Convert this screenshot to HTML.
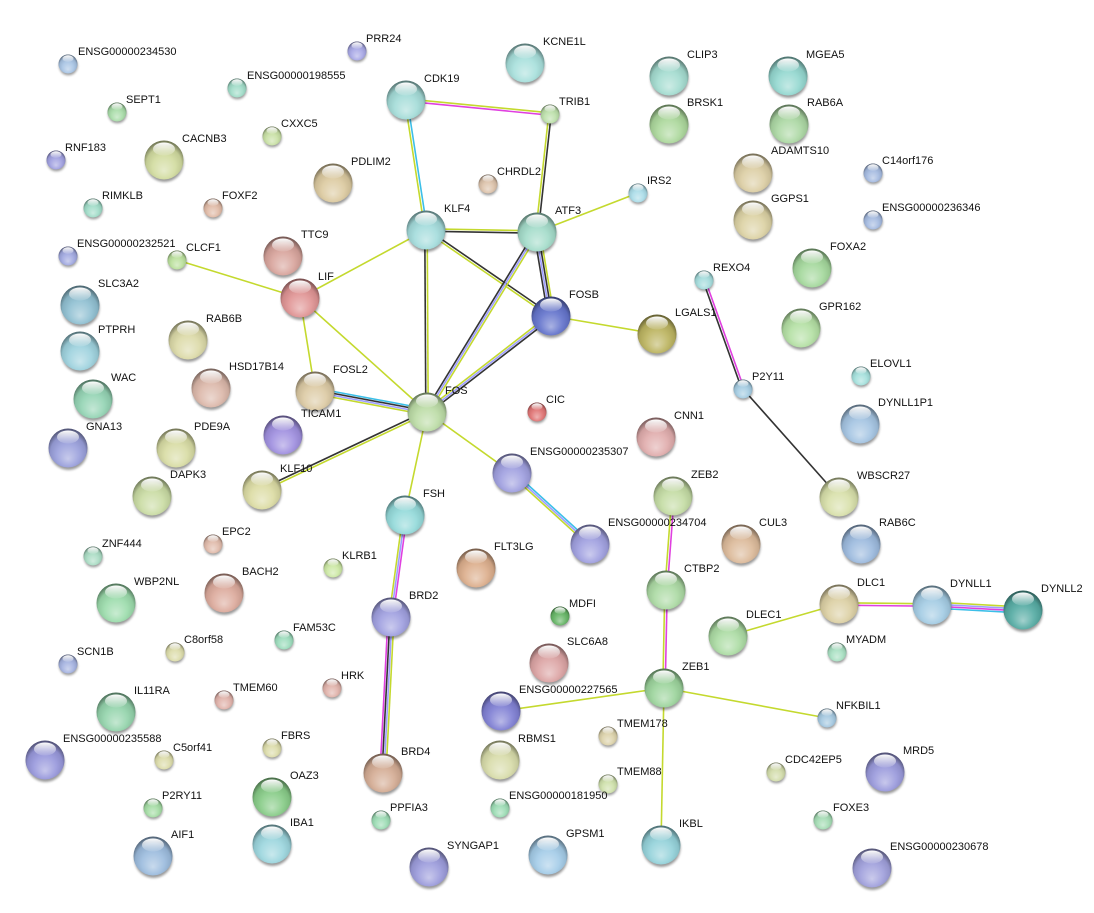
<!DOCTYPE html>
<html><head><meta charset="utf-8"><style>
html,body{margin:0;padding:0;background:#fff;}
svg{display:block;}
text{font-family:"Liberation Sans",Arial,sans-serif;font-size:11px;fill:#111;}
.y{stroke:#c4d92e;stroke-width:1.6;fill:none}
.k{stroke:#333;stroke-width:1.6;fill:none}
.v{stroke:#9e9eff;stroke-width:1.6;fill:none}
.m{stroke:#e040e0;stroke-width:1.6;fill:none}
.c{stroke:#3cbfe8;stroke-width:1.6;fill:none}
</style></head><body>
<svg width="1094" height="913" viewBox="0 0 1094 913" xmlns="http://www.w3.org/2000/svg" xmlns:xlink="http://www.w3.org/1999/xlink">
<defs>
<radialGradient id="sh" cx="50%" cy="58%" r="58%" fx="50%" fy="78%">
<stop offset="0" stop-color="#fff" stop-opacity=".45"/>
<stop offset=".5" stop-color="#fff" stop-opacity=".08"/>
<stop offset=".78" stop-color="#000" stop-opacity=".08"/>
<stop offset="1" stop-color="#000" stop-opacity=".5"/>
</radialGradient>
<linearGradient id="hl" x1="0" y1="0" x2="0" y2="1">
<stop offset="0" stop-color="#fff" stop-opacity="1"/>
<stop offset="1" stop-color="#fff" stop-opacity=".1"/>
</linearGradient>
<filter id="bl" x="-50%" y="-50%" width="200%" height="200%"><feGaussianBlur stdDeviation="1.3"/></filter>
<g id="L">
<circle cx="0.5" cy="3" r="19" fill="#000" opacity=".4" filter="url(#bl)"/>
<circle r="19.5" fill="currentColor"/>
<circle r="19.5" fill="url(#sh)"/>
<ellipse cy="-11" rx="11" ry="6.5" fill="url(#hl)"/>
</g>
<g id="S">
<circle cx="0.4" cy="2" r="9.3" fill="#000" opacity=".4" filter="url(#bl)"/>
<circle r="9.5" fill="currentColor"/>
<circle r="9.5" fill="url(#sh)"/>
<ellipse cy="-5.4" rx="5.5" ry="3.3" fill="url(#hl)"/>
</g>
</defs>

<!-- edges -->
<line class="y" x1="406.1" y1="98.8" x2="550.1" y2="112.8"/>
<line class="m" x1="405.9" y1="101.2" x2="549.9" y2="115.2"/>
<line class="y" x1="404.8" y1="100.2" x2="424.8" y2="230.2"/>
<line class="c" x1="407.2" y1="99.8" x2="427.2" y2="229.8"/>
<line class="y" x1="548.8" y1="113.9" x2="535.8" y2="231.9"/>
<line class="k" x1="551.2" y1="114.1" x2="538.2" y2="232.1"/>
<line class="y" x1="426" y1="228.8" x2="537" y2="230.8"/>
<line class="k" x1="426" y1="231.2" x2="537" y2="233.2"/>
<line class="k" x1="426.7" y1="229" x2="551.7" y2="315"/>
<line class="y" x1="425.3" y1="231" x2="550.3" y2="317"/>
<line class="k" x1="424.8" y1="230" x2="425.8" y2="412"/>
<line class="y" x1="427.2" y1="230" x2="428.2" y2="412"/>
<line class="k" x1="534" y1="232.5" x2="548" y2="316.5"/>
<line class="v" x1="536" y1="232.2" x2="550" y2="316.2"/>
<line class="k" x1="538" y1="231.8" x2="552" y2="315.8"/>
<line class="y" x1="540" y1="231.5" x2="554" y2="315.5"/>
<line class="k" x1="535.3" y1="231" x2="425.3" y2="411"/>
<line class="v" x1="537" y1="232" x2="427" y2="412"/>
<line class="y" x1="538.7" y1="233" x2="428.7" y2="413"/>
<line class="y" x1="537" y1="232" x2="638" y2="193"/>
<line class="y" x1="549.8" y1="314.4" x2="425.8" y2="410.4"/>
<line class="v" x1="551" y1="316" x2="427" y2="412"/>
<line class="k" x1="552.2" y1="317.6" x2="428.2" y2="413.6"/>
<line class="y" x1="551" y1="316" x2="657" y2="334"/>
<line class="y" x1="300" y1="298" x2="177" y2="260"/>
<line class="y" x1="300" y1="298" x2="426" y2="230"/>
<line class="y" x1="300" y1="298" x2="315" y2="391"/>
<line class="y" x1="300" y1="298" x2="427" y2="412"/>
<line class="c" x1="315.6" y1="388.1" x2="427.6" y2="409.1"/>
<line class="k" x1="315.2" y1="390" x2="427.2" y2="411"/>
<line class="v" x1="314.8" y1="392" x2="426.8" y2="413"/>
<line class="y" x1="314.4" y1="393.9" x2="426.4" y2="414.9"/>
<line class="k" x1="261.5" y1="488.9" x2="426.5" y2="410.9"/>
<line class="y" x1="262.5" y1="491.1" x2="427.5" y2="413.1"/>
<line class="y" x1="427" y1="412" x2="405" y2="515"/>
<line class="y" x1="427" y1="412" x2="512" y2="473"/>
<line class="c" x1="513.3" y1="471.5" x2="591.3" y2="542.5"/>
<line class="v" x1="512" y1="473" x2="590" y2="544"/>
<line class="y" x1="510.7" y1="474.5" x2="588.7" y2="545.5"/>
<line class="y" x1="403" y1="514.7" x2="389" y2="616.7"/>
<line class="v" x1="405" y1="515" x2="391" y2="617"/>
<line class="m" x1="407" y1="515.3" x2="393" y2="617.3"/>
<line class="m" x1="388" y1="616.8" x2="380" y2="772.8"/>
<line class="k" x1="390" y1="617" x2="382" y2="773"/>
<line class="v" x1="392" y1="617" x2="384" y2="773"/>
<line class="y" x1="394" y1="617.2" x2="386" y2="773.2"/>
<line class="k" x1="702.9" y1="280.4" x2="741.9" y2="389.4"/>
<line class="m" x1="705.1" y1="279.6" x2="744.1" y2="388.6"/>
<line class="k" x1="743" y1="389" x2="839" y2="497"/>
<line class="y" x1="671.8" y1="496" x2="664.8" y2="590"/>
<line class="m" x1="674.2" y1="496" x2="667.2" y2="590"/>
<line class="y" x1="664.8" y1="590" x2="662.8" y2="688"/>
<line class="m" x1="667.2" y1="590" x2="665.2" y2="688"/>
<line class="y" x1="664" y1="688" x2="501" y2="711"/>
<line class="y" x1="664" y1="688" x2="827" y2="718"/>
<line class="y" x1="664" y1="688" x2="661" y2="845"/>
<line class="y" x1="728" y1="636" x2="839" y2="604"/>
<line class="y" x1="839" y1="602.8" x2="932" y2="603.8"/>
<line class="m" x1="839" y1="605.2" x2="932" y2="606.2"/>
<line class="y" x1="932" y1="602" x2="1023" y2="607"/>
<line class="v" x1="932" y1="604" x2="1023" y2="609"/>
<line class="m" x1="932" y1="606" x2="1023" y2="611"/>
<line class="c" x1="932" y1="608" x2="1023" y2="613"/>

<!-- large nodes -->
<use href="#L" x="164" y="160" color="#d2dca0"/>
<use href="#L" x="333" y="183" color="#dccaa0"/>
<use href="#L" x="283" y="256" color="#d8a49c"/>
<use href="#L" x="300" y="298" color="#e09494"/>
<use href="#L" x="80" y="305" color="#90c0d2"/>
<use href="#L" x="80" y="351" color="#9ed2de"/>
<use href="#L" x="93" y="399" color="#94d4b4"/>
<use href="#L" x="68" y="448" color="#9aa0dc"/>
<use href="#L" x="188" y="340" color="#dcdaa8"/>
<use href="#L" x="211" y="388" color="#dcb8aa"/>
<use href="#L" x="176" y="448" color="#d8dca4"/>
<use href="#L" x="152" y="496" color="#cadca4"/>
<use href="#L" x="262" y="490" color="#dcdca4"/>
<use href="#L" x="283" y="435" color="#a090e0"/>
<use href="#L" x="315" y="391" color="#dccaa4"/>
<use href="#L" x="427" y="412" color="#bcdca6"/>
<use href="#L" x="551" y="316" color="#6474cc"/>
<use href="#L" x="512" y="473" color="#a0a0e0"/>
<use href="#L" x="590" y="544" color="#a0a0e0"/>
<use href="#L" x="405" y="515" color="#94dada"/>
<use href="#L" x="476" y="568" color="#dcae8c"/>
<use href="#L" x="391" y="617" color="#a0a0e0"/>
<use href="#L" x="383" y="773" color="#d4ac94"/>
<use href="#L" x="673" y="496" color="#c4dca4"/>
<use href="#L" x="741" y="544" color="#dcba9a"/>
<use href="#L" x="839" y="497" color="#d8e0aa"/>
<use href="#L" x="861" y="544" color="#9cbade"/>
<use href="#L" x="656" y="437" color="#e0acac"/>
<use href="#L" x="657" y="334" color="#bcb460"/>
<use href="#L" x="812" y="268" color="#a4d89c"/>
<use href="#L" x="801" y="328" color="#b4e0a4"/>
<use href="#L" x="860" y="424" color="#a4c4e2"/>
<use href="#L" x="666" y="590" color="#acdaa4"/>
<use href="#L" x="728" y="636" color="#acdca4"/>
<use href="#L" x="839" y="604" color="#dcd0a4"/>
<use href="#L" x="664" y="688" color="#9cd49c"/>
<use href="#L" x="549" y="663" color="#dca4a4"/>
<use href="#L" x="501" y="711" color="#8080d4"/>
<use href="#L" x="500" y="760" color="#d8dcaa"/>
<use href="#L" x="548" y="855" color="#a4cce8"/>
<use href="#L" x="661" y="845" color="#94d2da"/>
<use href="#L" x="885" y="772" color="#9a9adc"/>
<use href="#L" x="872" y="868" color="#a0a0dc"/>
<use href="#L" x="932" y="605" color="#a4cce4"/>
<use href="#L" x="1023" y="610" color="#56aca4"/>
<use href="#L" x="429" y="867" color="#9c9cdc"/>
<use href="#L" x="272" y="797" color="#88cc88"/>
<use href="#L" x="272" y="844" color="#9cd6de"/>
<use href="#L" x="153" y="856" color="#9cbcde"/>
<use href="#L" x="45" y="760" color="#9898dc"/>
<use href="#L" x="116" y="712" color="#94d4ac"/>
<use href="#L" x="116" y="603" color="#9cdcac"/>
<use href="#L" x="224" y="593" color="#dcaa9c"/>
<use href="#L" x="426" y="230" color="#a4dcdc"/>
<use href="#L" x="537" y="232" color="#a4dcca"/>
<use href="#L" x="406" y="100" color="#a4dcd8"/>
<use href="#L" x="525" y="63" color="#a8e0dc"/>
<use href="#L" x="669" y="76" color="#a4dcd0"/>
<use href="#L" x="669" y="124" color="#acd89c"/>
<use href="#L" x="788" y="76" color="#94d8d0"/>
<use href="#L" x="789" y="124" color="#acd8a4"/>
<use href="#L" x="753" y="173" color="#dccea4"/>
<use href="#L" x="753" y="220" color="#dcd2a4"/>

<!-- small nodes -->
<use href="#S" x="68" y="64" color="#a8c4e4"/>
<use href="#S" x="357" y="51" color="#a8a8e6"/>
<use href="#S" x="237" y="88" color="#a0dcc8"/>
<use href="#S" x="117" y="112" color="#a8dca8"/>
<use href="#S" x="272" y="136" color="#c8e0a4"/>
<use href="#S" x="56" y="160" color="#a0a0e0"/>
<use href="#S" x="93" y="208" color="#a0dcc8"/>
<use href="#S" x="213" y="208" color="#e0baa6"/>
<use href="#S" x="68" y="256" color="#a0a8e0"/>
<use href="#S" x="177" y="260" color="#bae09c"/>
<use href="#S" x="537" y="412" color="#e07474"/>
<use href="#S" x="560" y="616" color="#64b464"/>
<use href="#S" x="333" y="568" color="#cce8a4"/>
<use href="#S" x="743" y="389" color="#a4cce2"/>
<use href="#S" x="704" y="280" color="#a4dcdc"/>
<use href="#S" x="861" y="376" color="#a4e0dc"/>
<use href="#S" x="837" y="652" color="#a8e0c2"/>
<use href="#S" x="827" y="718" color="#a4c8e0"/>
<use href="#S" x="608" y="736" color="#dcd2aa"/>
<use href="#S" x="608" y="784" color="#cee0aa"/>
<use href="#S" x="500" y="808" color="#9cdcb4"/>
<use href="#S" x="776" y="772" color="#d2dcaa"/>
<use href="#S" x="823" y="820" color="#a4dcb4"/>
<use href="#S" x="381" y="820" color="#9cdcb4"/>
<use href="#S" x="332" y="688" color="#e0b2aa"/>
<use href="#S" x="272" y="748" color="#dcdcaa"/>
<use href="#S" x="153" y="808" color="#a4dca4"/>
<use href="#S" x="164" y="760" color="#dcdcaa"/>
<use href="#S" x="224" y="700" color="#e0b2aa"/>
<use href="#S" x="68" y="664" color="#a4b2e0"/>
<use href="#S" x="175" y="652" color="#dcdcaa"/>
<use href="#S" x="284" y="640" color="#9cdcbc"/>
<use href="#S" x="213" y="544" color="#e0baaa"/>
<use href="#S" x="93" y="556" color="#aadcc4"/>
<use href="#S" x="488" y="184" color="#dcc2aa"/>
<use href="#S" x="638" y="193" color="#aadce8"/>
<use href="#S" x="550" y="114" color="#bce0aa"/>
<use href="#S" x="873" y="173" color="#a4bae0"/>
<use href="#S" x="873" y="220" color="#a4bae0"/>

<!-- labels large -->
<text x="182" y="142">CACNB3</text>
<text x="351" y="165">PDLIM2</text>
<text x="301" y="238">TTC9</text>
<text x="318" y="280">LIF</text>
<text x="98" y="287">SLC3A2</text>
<text x="98" y="333">PTPRH</text>
<text x="111" y="381">WAC</text>
<text x="86" y="430">GNA13</text>
<text x="206" y="322">RAB6B</text>
<text x="229" y="370">HSD17B14</text>
<text x="194" y="430">PDE9A</text>
<text x="170" y="478">DAPK3</text>
<text x="280" y="472">KLF10</text>
<text x="301" y="417">TICAM1</text>
<text x="333" y="373">FOSL2</text>
<text x="445" y="394">FOS</text>
<text x="569" y="298">FOSB</text>
<text x="530" y="455">ENSG00000235307</text>
<text x="608" y="526">ENSG00000234704</text>
<text x="423" y="497">FSH</text>
<text x="494" y="550">FLT3LG</text>
<text x="409" y="599">BRD2</text>
<text x="401" y="755">BRD4</text>
<text x="691" y="478">ZEB2</text>
<text x="759" y="526">CUL3</text>
<text x="857" y="479">WBSCR27</text>
<text x="879" y="526">RAB6C</text>
<text x="674" y="419">CNN1</text>
<text x="675" y="316">LGALS1</text>
<text x="830" y="250">FOXA2</text>
<text x="819" y="310">GPR162</text>
<text x="878" y="406">DYNLL1P1</text>
<text x="684" y="572">CTBP2</text>
<text x="746" y="618">DLEC1</text>
<text x="857" y="586">DLC1</text>
<text x="682" y="670">ZEB1</text>
<text x="567" y="645">SLC6A8</text>
<text x="519" y="693">ENSG00000227565</text>
<text x="518" y="742">RBMS1</text>
<text x="566" y="837">GPSM1</text>
<text x="679" y="827">IKBL</text>
<text x="903" y="754">MRD5</text>
<text x="890" y="850">ENSG00000230678</text>
<text x="950" y="587">DYNLL1</text>
<text x="1041" y="592">DYNLL2</text>
<text x="447" y="849">SYNGAP1</text>
<text x="290" y="779">OAZ3</text>
<text x="290" y="826">IBA1</text>
<text x="171" y="838">AIF1</text>
<text x="63" y="742">ENSG00000235588</text>
<text x="134" y="694">IL11RA</text>
<text x="134" y="585">WBP2NL</text>
<text x="242" y="575">BACH2</text>
<text x="444" y="212">KLF4</text>
<text x="555" y="214">ATF3</text>
<text x="424" y="82">CDK19</text>
<text x="543" y="45">KCNE1L</text>
<text x="687" y="58">CLIP3</text>
<text x="687" y="106">BRSK1</text>
<text x="806" y="58">MGEA5</text>
<text x="807" y="106">RAB6A</text>
<text x="771" y="154">ADAMTS10</text>
<text x="771" y="202">GGPS1</text>

<!-- labels small -->
<text x="78" y="55">ENSG00000234530</text>
<text x="366" y="42">PRR24</text>
<text x="247" y="79">ENSG00000198555</text>
<text x="126" y="103">SEPT1</text>
<text x="281" y="127">CXXC5</text>
<text x="65" y="151">RNF183</text>
<text x="102" y="199">RIMKLB</text>
<text x="222" y="199">FOXF2</text>
<text x="77" y="247">ENSG00000232521</text>
<text x="186" y="251">CLCF1</text>
<text x="546" y="403">CIC</text>
<text x="569" y="607">MDFI</text>
<text x="342" y="559">KLRB1</text>
<text x="752" y="380">P2Y11</text>
<text x="713" y="271">REXO4</text>
<text x="870" y="367">ELOVL1</text>
<text x="846" y="643">MYADM</text>
<text x="836" y="709">NFKBIL1</text>
<text x="617" y="727">TMEM178</text>
<text x="617" y="775">TMEM88</text>
<text x="509" y="799">ENSG00000181950</text>
<text x="785" y="763">CDC42EP5</text>
<text x="833" y="811">FOXE3</text>
<text x="390" y="811">PPFIA3</text>
<text x="341" y="679">HRK</text>
<text x="281" y="739">FBRS</text>
<text x="162" y="799">P2RY11</text>
<text x="173" y="751">C5orf41</text>
<text x="233" y="691">TMEM60</text>
<text x="77" y="655">SCN1B</text>
<text x="184" y="643">C8orf58</text>
<text x="293" y="631">FAM53C</text>
<text x="222" y="535">EPC2</text>
<text x="102" y="547">ZNF444</text>
<text x="497" y="175">CHRDL2</text>
<text x="647" y="184">IRS2</text>
<text x="559" y="105">TRIB1</text>
<text x="882" y="164">C14orf176</text>
<text x="882" y="211">ENSG00000236346</text>
</svg>
</body></html>
